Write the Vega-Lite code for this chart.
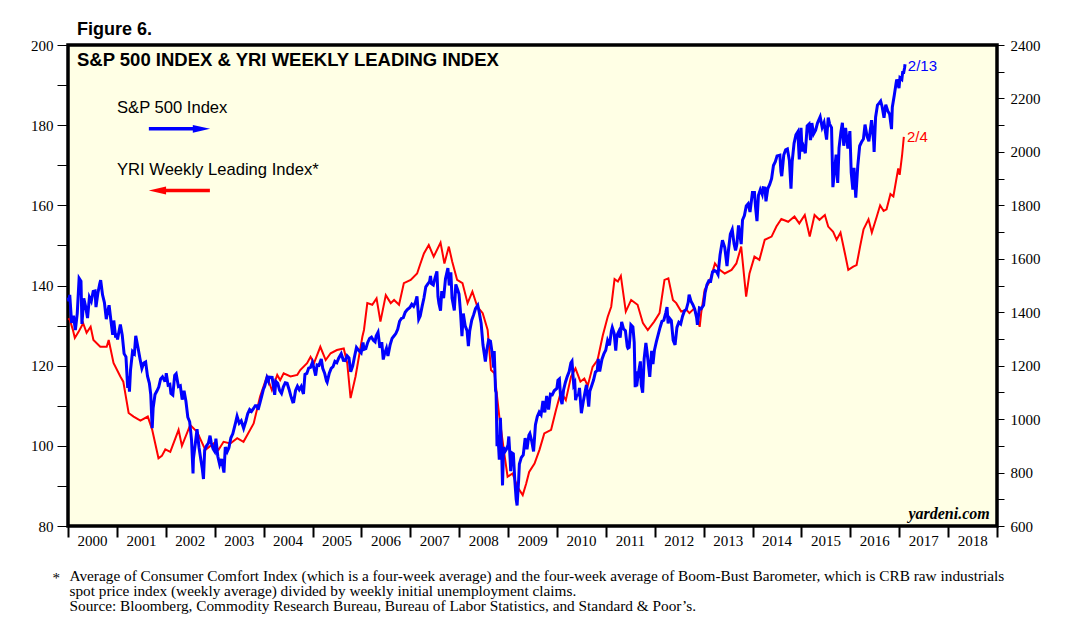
{
  "$schema": "https://vega.github.io/schema/vega-lite/v6.json",
  "width": 929,
  "height": 481,
  "autosize": {"type": "none"},
  "padding": {"left": 68, "top": 45, "right": 85, "bottom": 114},
  "background": "white",
  "title": {"text": "Figure 6.", "anchor": "start", "frame": "group", "font": "Liberation Sans", "fontSize": 18, "fontWeight": "bold", "color": "black", "dx": 9, "dy": 27, "offset": 8, "baseline": "bottom"},
  "config": {
    "view": {"fill": "#FFFFE5", "stroke": "black", "strokeWidth": 3.5},
    "axis": {"grid": false, "domain": false, "labelColor": "black", "tickColor": "black", "labelFont": "Liberation Serif", "labelFontSize": 15, "labelFlush": false, "labelOverlap": false, "labelBound": false}
  },
  "datasets": {
    "yri": [
      {"date":"2000-01-03","v":131.8},{"date":"2000-01-15","v":131.4},{"date":"2000-02-06","v":129.0},{"date":"2000-02-21","v":126.9},{"date":"2000-03-21","v":128.5},{"date":"2000-04-23","v":130.6},{"date":"2000-05-19","v":128.2},{"date":"2000-06-18","v":129.7},{"date":"2000-07-09","v":126.4},{"date":"2000-08-29","v":124.7},{"date":"2000-10-16","v":124.7},{"date":"2000-10-31","v":126.4},{"date":"2000-12-06","v":120.7},
      {"date":"2001-01-26","v":117.3},{"date":"2001-02-17","v":116.0},{"date":"2001-03-29","v":108.2},{"date":"2001-05-05","v":107.3},{"date":"2001-06-25","v":106.3},{"date":"2001-08-19","v":107.3},{"date":"2001-09-21","v":104.0},{"date":"2001-11-07","v":96.9},{"date":"2001-12-02","v":97.5},{"date":"2001-12-28","v":99.1},
      {"date":"2002-02-03","v":98.5},{"date":"2002-04-06","v":104.0},{"date":"2002-05-01","v":100.0},{"date":"2002-07-02","v":105.2},{"date":"2002-08-22","v":103.5},{"date":"2002-10-23","v":99.0},{"date":"2002-12-24","v":100.6},
      {"date":"2003-01-30","v":99.0},{"date":"2003-03-08","v":101.0},{"date":"2003-04-28","v":100.6},{"date":"2003-06-18","v":101.9},{"date":"2003-08-04","v":101.0},{"date":"2003-10-19","v":105.6},{"date":"2003-12-06","v":112.3},
      {"date":"2004-01-26","v":117.3},{"date":"2004-03-03","v":113.9},{"date":"2004-04-12","v":117.7},{"date":"2004-05-04","v":116.4},{"date":"2004-05-30","v":118.1},{"date":"2004-07-20","v":117.3},{"date":"2004-09-09","v":117.7},{"date":"2004-10-01","v":118.9},{"date":"2004-11-21","v":120.6},{"date":"2004-12-17","v":122.2},
      {"date":"2005-01-11","v":120.6},{"date":"2005-02-28","v":124.7},{"date":"2005-04-09","v":121.4},{"date":"2005-05-16","v":123.1},{"date":"2005-07-02","v":123.9},{"date":"2005-08-22","v":124.3},{"date":"2005-09-17","v":120.6},{"date":"2005-10-12","v":111.9},{"date":"2005-11-18","v":117.3},
      {"date":"2006-01-08","v":127.2},{"date":"2006-01-20","v":128.9},{"date":"2006-02-14","v":135.6},{"date":"2006-03-23","v":135.2},{"date":"2006-04-24","v":136.8},{"date":"2006-05-23","v":131.0},{"date":"2006-07-02","v":137.6},{"date":"2006-08-08","v":135.6},{"date":"2006-09-02","v":136.4},{"date":"2006-10-09","v":135.2},{"date":"2006-11-14","v":140.6},
      {"date":"2007-01-04","v":141.4},{"date":"2007-02-21","v":143.0},{"date":"2007-03-18","v":145.5},{"date":"2007-04-13","v":148.0},{"date":"2007-05-19","v":150.1},{"date":"2007-06-25","v":147.2},{"date":"2007-08-15","v":150.7},{"date":"2007-09-13","v":145.5},{"date":"2007-10-16","v":149.7},{"date":"2007-11-10","v":146.0},{"date":"2007-12-17","v":141.4},
      {"date":"2008-01-26","v":140.6},{"date":"2008-03-04","v":135.6},{"date":"2008-04-09","v":138.5},{"date":"2008-05-16","v":134.7},{"date":"2008-06-25","v":133.1},{"date":"2008-08-01","v":128.9},{"date":"2008-08-26","v":118.9},{"date":"2008-09-21","v":118.1},{"date":"2008-10-27","v":107.3},{"date":"2008-12-03","v":98.1},{"date":"2008-12-28","v":92.3},
      {"date":"2009-02-03","v":93.1},{"date":"2009-03-11","v":89.8},{"date":"2009-04-20","v":87.7},{"date":"2009-05-16","v":90.6},{"date":"2009-06-07","v":93.5},{"date":"2009-07-17","v":95.6},{"date":"2009-08-23","v":99.0},{"date":"2009-09-28","v":103.1},{"date":"2009-11-18","v":104.0},{"date":"2009-12-24","v":108.9},
      {"date":"2010-01-30","v":113.5},{"date":"2010-03-08","v":111.4},{"date":"2010-04-16","v":117.3},{"date":"2010-05-19","v":119.3},{"date":"2010-06-25","v":116.0},{"date":"2010-07-24","v":116.8},{"date":"2010-08-19","v":115.0},{"date":"2010-09-24","v":119.7},{"date":"2010-10-31","v":121.4},{"date":"2010-12-09","v":127.5},
      {"date":"2011-01-15","v":132.2},{"date":"2011-02-10","v":134.7},{"date":"2011-03-07","v":141.6},{"date":"2011-04-01","v":141.0},{"date":"2011-04-23","v":142.4},{"date":"2011-05-30","v":133.5},{"date":"2011-07-09","v":136.4},{"date":"2011-08-26","v":135.2},{"date":"2011-10-05","v":130.6},{"date":"2011-11-10","v":128.9},{"date":"2011-12-28","v":131.0},
      {"date":"2012-02-06","v":133.1},{"date":"2012-03-14","v":141.4},{"date":"2012-04-12","v":141.8},{"date":"2012-05-16","v":136.4},{"date":"2012-06-10","v":135.6},{"date":"2012-07-17","v":133.5},{"date":"2012-08-26","v":133.9},{"date":"2012-09-16","v":133.1},{"date":"2012-10-23","v":134.3},{"date":"2012-12-02","v":129.7},{"date":"2012-12-13","v":133.1},
      {"date":"2013-01-08","v":138.9},{"date":"2013-02-14","v":140.9},{"date":"2013-03-26","v":145.5},{"date":"2013-05-01","v":143.9},{"date":"2013-06-07","v":143.0},{"date":"2013-07-28","v":143.9},{"date":"2013-09-02","v":145.5},{"date":"2013-10-08","v":149.7},{"date":"2013-11-14","v":137.2},{"date":"2013-12-09","v":143.0},
      {"date":"2014-01-15","v":147.2},{"date":"2014-02-21","v":146.4},{"date":"2014-04-02","v":151.4},{"date":"2014-05-23","v":152.2},{"date":"2014-06-28","v":154.7},{"date":"2014-08-04","v":156.6},{"date":"2014-09-24","v":155.9},{"date":"2014-11-10","v":157.2},{"date":"2014-12-16","v":155.5},
      {"date":"2015-01-26","v":157.6},{"date":"2015-03-04","v":152.2},{"date":"2015-04-09","v":157.6},{"date":"2015-05-16","v":156.4},{"date":"2015-06-25","v":157.6},{"date":"2015-07-20","v":154.7},{"date":"2015-08-26","v":153.4},{"date":"2015-09-21","v":151.4},{"date":"2015-10-20","v":153.2},{"date":"2015-11-22","v":148.0},{"date":"2015-12-17","v":143.9},
      {"date":"2016-01-23","v":144.7},{"date":"2016-02-17","v":145.1},{"date":"2016-03-14","v":149.7},{"date":"2016-04-09","v":154.0},{"date":"2016-05-16","v":156.5},{"date":"2016-06-10","v":153.2},{"date":"2016-07-17","v":157.2},{"date":"2016-08-11","v":160.0},{"date":"2016-09-06","v":158.6},{"date":"2016-09-28","v":159.0},{"date":"2016-10-27","v":162.8},{"date":"2016-11-18","v":162.2},{"date":"2016-12-24","v":169.2},
      {"date":"2017-01-04","v":167.6},{"date":"2017-01-22","v":172.5},{"date":"2017-02-04","v":177.1}
    ],
    "spx": [
      {"date":"2000-01-03","v":1455},{"date":"2000-01-07","v":1441},{"date":"2000-01-14","v":1465},{"date":"2000-01-28","v":1360},{"date":"2000-02-11","v":1387},{"date":"2000-02-25","v":1333},{"date":"2000-03-10","v":1395},{"date":"2000-03-24","v":1527},{"date":"2000-04-07","v":1516},{"date":"2000-04-14","v":1356},{"date":"2000-04-28","v":1452},{"date":"2000-05-12","v":1420},{"date":"2000-05-26","v":1378},{"date":"2000-06-09","v":1456},{"date":"2000-06-23","v":1441},{"date":"2000-07-07","v":1478},{"date":"2000-07-21","v":1480},{"date":"2000-07-28","v":1419},{"date":"2000-08-11","v":1471},{"date":"2000-08-25","v":1506},{"date":"2000-09-01","v":1520},{"date":"2000-09-15","v":1465},{"date":"2000-09-29","v":1436},{"date":"2000-10-13","v":1374},{"date":"2000-10-20","v":1396},{"date":"2000-11-03","v":1426},{"date":"2000-11-17","v":1367},{"date":"2000-11-30","v":1315},{"date":"2000-12-08","v":1369},{"date":"2000-12-22","v":1305},{"date":"2000-12-29","v":1320},
      {"date":"2001-01-05","v":1298},{"date":"2001-01-12","v":1318},{"date":"2001-01-26","v":1354},{"date":"2001-02-09","v":1315},{"date":"2001-02-23","v":1245},{"date":"2001-03-09","v":1233},{"date":"2001-03-22","v":1117},{"date":"2001-03-30","v":1160},{"date":"2001-04-04","v":1103},{"date":"2001-04-12","v":1183},{"date":"2001-04-27","v":1253},{"date":"2001-05-11","v":1245},{"date":"2001-05-21","v":1312},{"date":"2001-06-08","v":1264},{"date":"2001-06-22","v":1225},{"date":"2001-07-06","v":1190},{"date":"2001-07-20","v":1210},{"date":"2001-08-03","v":1214},{"date":"2001-08-17","v":1161},{"date":"2001-08-31","v":1134},{"date":"2001-09-10","v":1093},{"date":"2001-09-21","v":966},{"date":"2001-09-28","v":1041},{"date":"2001-10-12","v":1092},{"date":"2001-10-26","v":1105},{"date":"2001-11-09","v":1120},{"date":"2001-11-23","v":1150},{"date":"2001-12-07","v":1158},{"date":"2001-12-21","v":1145},{"date":"2001-12-31","v":1148},
      {"date":"2002-01-04","v":1172},{"date":"2002-01-18","v":1127},{"date":"2002-01-31","v":1130},{"date":"2002-02-08","v":1096},{"date":"2002-02-22","v":1090},{"date":"2002-03-08","v":1164},{"date":"2002-03-19","v":1170},{"date":"2002-04-05","v":1122},{"date":"2002-04-19","v":1125},{"date":"2002-05-03","v":1073},{"date":"2002-05-17","v":1106},{"date":"2002-05-31","v":1067},{"date":"2002-06-14","v":1007},{"date":"2002-06-28","v":990},{"date":"2002-07-12","v":921},{"date":"2002-07-23","v":797},{"date":"2002-07-26","v":852},{"date":"2002-08-09","v":908},{"date":"2002-08-22","v":962},{"date":"2002-09-06","v":893},{"date":"2002-09-20","v":846},{"date":"2002-09-30","v":815},{"date":"2002-10-09","v":776},{"date":"2002-10-18","v":884},{"date":"2002-11-01","v":900},{"date":"2002-11-15","v":910},{"date":"2002-11-27","v":938},{"date":"2002-12-06","v":912},{"date":"2002-12-20","v":889},{"date":"2002-12-31","v":880},
      {"date":"2003-01-10","v":927},{"date":"2003-01-24","v":861},{"date":"2003-02-07","v":830},{"date":"2003-02-21","v":851},{"date":"2003-03-11","v":800},{"date":"2003-03-21","v":895},{"date":"2003-04-04","v":878},{"date":"2003-04-17","v":893},{"date":"2003-05-02","v":930},{"date":"2003-05-16","v":945},{"date":"2003-06-06","v":987},{"date":"2003-06-17","v":1011},{"date":"2003-07-03","v":985},{"date":"2003-07-18","v":994},{"date":"2003-08-05","v":966},{"date":"2003-08-22","v":993},{"date":"2003-09-05","v":1021},{"date":"2003-09-19","v":1036},{"date":"2003-10-03","v":1029},{"date":"2003-10-17","v":1039},{"date":"2003-10-31","v":1050},{"date":"2003-11-14","v":1050},{"date":"2003-11-21","v":1035},{"date":"2003-12-05","v":1061},{"date":"2003-12-19","v":1088},{"date":"2003-12-31","v":1112},
      {"date":"2004-01-09","v":1122},{"date":"2004-01-26","v":1155},{"date":"2004-02-06","v":1142},{"date":"2004-02-11","v":1157},{"date":"2004-03-05","v":1156},{"date":"2004-03-24","v":1091},{"date":"2004-04-02","v":1141},{"date":"2004-04-16","v":1134},{"date":"2004-04-30","v":1107},{"date":"2004-05-14","v":1096},{"date":"2004-05-28","v":1121},{"date":"2004-06-11","v":1136},{"date":"2004-06-25","v":1134},{"date":"2004-07-09","v":1112},{"date":"2004-07-23","v":1086},{"date":"2004-08-06","v":1064},{"date":"2004-08-13","v":1065},{"date":"2004-08-27","v":1107},{"date":"2004-09-10","v":1123},{"date":"2004-09-24","v":1110},{"date":"2004-10-08","v":1122},{"date":"2004-10-25","v":1094},{"date":"2004-11-05","v":1167},{"date":"2004-11-19","v":1171},{"date":"2004-12-03","v":1191},{"date":"2004-12-17","v":1194},{"date":"2004-12-31","v":1212},
      {"date":"2005-01-14","v":1184},{"date":"2005-01-24","v":1163},{"date":"2005-02-04","v":1203},{"date":"2005-02-18","v":1201},{"date":"2005-03-07","v":1225},{"date":"2005-03-18","v":1190},{"date":"2005-04-01","v":1172},{"date":"2005-04-15","v":1143},{"date":"2005-04-20","v":1138},{"date":"2005-05-06","v":1172},{"date":"2005-05-20","v":1190},{"date":"2005-06-03","v":1196},{"date":"2005-06-17","v":1216},{"date":"2005-07-01","v":1211},{"date":"2005-07-15","v":1228},{"date":"2005-08-03","v":1245},{"date":"2005-08-19","v":1220},{"date":"2005-09-02","v":1219},{"date":"2005-09-16","v":1237},{"date":"2005-09-30","v":1229},{"date":"2005-10-13","v":1177},{"date":"2005-10-28","v":1199},{"date":"2005-11-11","v":1235},{"date":"2005-11-25","v":1268},{"date":"2005-12-09","v":1259},{"date":"2005-12-30","v":1248},
      {"date":"2006-01-13","v":1287},{"date":"2006-01-20","v":1261},{"date":"2006-02-03","v":1264},{"date":"2006-02-17","v":1287},{"date":"2006-03-03","v":1302},{"date":"2006-03-17","v":1307},{"date":"2006-03-31","v":1295},{"date":"2006-04-13","v":1289},{"date":"2006-04-21","v":1311},{"date":"2006-05-05","v":1325},{"date":"2006-05-19","v":1267},{"date":"2006-06-02","v":1288},{"date":"2006-06-13","v":1223},{"date":"2006-06-23","v":1245},{"date":"2006-07-07","v":1265},{"date":"2006-07-18","v":1236},{"date":"2006-08-04","v":1279},{"date":"2006-08-18","v":1302},{"date":"2006-09-01","v":1311},{"date":"2006-09-15","v":1320},{"date":"2006-09-29","v":1336},{"date":"2006-10-13","v":1366},{"date":"2006-10-27","v":1377},{"date":"2006-11-10","v":1380},{"date":"2006-11-24","v":1400},{"date":"2006-12-08","v":1409},{"date":"2006-12-29","v":1418},
      {"date":"2007-01-12","v":1430},{"date":"2007-01-26","v":1422},{"date":"2007-02-09","v":1438},{"date":"2007-02-20","v":1459},{"date":"2007-03-05","v":1374},{"date":"2007-03-16","v":1386},{"date":"2007-03-30","v":1421},{"date":"2007-04-13","v":1453},{"date":"2007-04-27","v":1495},{"date":"2007-05-11","v":1505},{"date":"2007-05-25","v":1515},{"date":"2007-06-01","v":1536},{"date":"2007-06-08","v":1507},{"date":"2007-06-22","v":1502},{"date":"2007-07-06","v":1530},{"date":"2007-07-19","v":1553},{"date":"2007-07-27","v":1458},{"date":"2007-08-03","v":1433},{"date":"2007-08-15","v":1406},{"date":"2007-08-24","v":1479},{"date":"2007-09-07","v":1453},{"date":"2007-09-21","v":1525},{"date":"2007-10-09","v":1565},{"date":"2007-10-19","v":1500},{"date":"2007-10-31","v":1549},{"date":"2007-11-09","v":1453},{"date":"2007-11-26","v":1407},{"date":"2007-12-07","v":1504},{"date":"2007-12-21","v":1484},{"date":"2007-12-31","v":1468},
      {"date":"2008-01-11","v":1401},{"date":"2008-01-22","v":1310},{"date":"2008-02-01","v":1395},{"date":"2008-02-15","v":1349},{"date":"2008-02-29","v":1331},{"date":"2008-03-10","v":1273},{"date":"2008-03-20","v":1330},{"date":"2008-04-04","v":1370},{"date":"2008-04-18","v":1390},{"date":"2008-05-02","v":1413},{"date":"2008-05-19","v":1426},{"date":"2008-05-30","v":1400},{"date":"2008-06-13","v":1360},{"date":"2008-06-27","v":1278},{"date":"2008-07-15","v":1215},{"date":"2008-07-25","v":1257},{"date":"2008-08-08","v":1296},{"date":"2008-08-22","v":1292},{"date":"2008-09-05","v":1242},{"date":"2008-09-15","v":1193},{"date":"2008-09-19","v":1255},{"date":"2008-09-29","v":1106},{"date":"2008-10-03","v":1099},{"date":"2008-10-10","v":899},{"date":"2008-10-17","v":940},{"date":"2008-10-27","v":848},{"date":"2008-11-04","v":1005},{"date":"2008-11-14","v":873},{"date":"2008-11-20","v":752},{"date":"2008-11-28","v":896},{"date":"2008-12-05","v":876},{"date":"2008-12-19","v":887},{"date":"2008-12-31","v":903},
      {"date":"2009-01-06","v":935},{"date":"2009-01-16","v":850},{"date":"2009-01-20","v":805},{"date":"2009-01-28","v":874},{"date":"2009-02-09","v":870},{"date":"2009-02-20","v":770},{"date":"2009-03-02","v":700},{"date":"2009-03-09","v":677},{"date":"2009-03-20","v":768},{"date":"2009-03-26","v":832},{"date":"2009-04-09","v":856},{"date":"2009-04-24","v":866},{"date":"2009-05-08","v":929},{"date":"2009-05-22","v":887},{"date":"2009-06-05","v":940},{"date":"2009-06-12","v":946},{"date":"2009-06-26","v":918},{"date":"2009-07-10","v":879},{"date":"2009-07-24","v":979},{"date":"2009-08-07","v":1010},{"date":"2009-08-21","v":1026},{"date":"2009-09-04","v":1016},{"date":"2009-09-18","v":1068},{"date":"2009-10-02","v":1025},{"date":"2009-10-16","v":1087},{"date":"2009-10-30","v":1036},{"date":"2009-11-13","v":1093},{"date":"2009-11-27","v":1091},{"date":"2009-12-11","v":1106},{"date":"2009-12-31","v":1115},
      {"date":"2010-01-08","v":1145},{"date":"2010-01-19","v":1150},{"date":"2010-01-29","v":1074},{"date":"2010-02-08","v":1056},{"date":"2010-02-19","v":1109},{"date":"2010-03-05","v":1138},{"date":"2010-03-19","v":1160},{"date":"2010-04-02","v":1178},{"date":"2010-04-15","v":1211},{"date":"2010-04-23","v":1217},{"date":"2010-05-06","v":1128},{"date":"2010-05-14","v":1136},{"date":"2010-05-20","v":1071},{"date":"2010-05-28","v":1089},{"date":"2010-06-11","v":1092},{"date":"2010-06-18","v":1117},{"date":"2010-07-02","v":1022},{"date":"2010-07-16","v":1065},{"date":"2010-07-30","v":1102},{"date":"2010-08-09","v":1128},{"date":"2010-08-26","v":1047},{"date":"2010-09-03","v":1104},{"date":"2010-09-17","v":1125},{"date":"2010-10-01","v":1146},{"date":"2010-10-15","v":1176},{"date":"2010-10-29","v":1183},{"date":"2010-11-05","v":1225},{"date":"2010-11-16","v":1178},{"date":"2010-12-03","v":1224},{"date":"2010-12-17","v":1244},{"date":"2010-12-31","v":1258},
      {"date":"2011-01-14","v":1294},{"date":"2011-01-28","v":1276},{"date":"2011-02-11","v":1329},{"date":"2011-02-18","v":1343},{"date":"2011-03-04","v":1321},{"date":"2011-03-16","v":1256},{"date":"2011-03-25","v":1313},{"date":"2011-04-08","v":1328},{"date":"2011-04-18","v":1305},{"date":"2011-04-29","v":1364},{"date":"2011-05-13","v":1338},{"date":"2011-05-27","v":1331},{"date":"2011-06-10","v":1271},{"date":"2011-06-15","v":1265},{"date":"2011-06-24","v":1268},{"date":"2011-07-07","v":1353},{"date":"2011-07-22","v":1345},{"date":"2011-08-01","v":1287},{"date":"2011-08-08","v":1119},{"date":"2011-08-12","v":1179},{"date":"2011-08-19","v":1123},{"date":"2011-09-02","v":1174},{"date":"2011-09-16","v":1216},{"date":"2011-09-22","v":1129},{"date":"2011-10-03","v":1099},{"date":"2011-10-14","v":1225},{"date":"2011-10-27","v":1285},{"date":"2011-11-04","v":1254},{"date":"2011-11-25","v":1158},{"date":"2011-12-09","v":1255},{"date":"2011-12-19","v":1206},{"date":"2011-12-30","v":1258},
      {"date":"2012-01-13","v":1289},{"date":"2012-01-27","v":1316},{"date":"2012-02-10","v":1343},{"date":"2012-02-24","v":1366},{"date":"2012-03-09","v":1370},{"date":"2012-03-23","v":1397},{"date":"2012-04-02","v":1419},{"date":"2012-04-10","v":1358},{"date":"2012-04-20","v":1378},{"date":"2012-05-04","v":1369},{"date":"2012-05-18","v":1295},{"date":"2012-06-01","v":1278},{"date":"2012-06-15","v":1343},{"date":"2012-06-29","v":1362},{"date":"2012-07-13","v":1356},{"date":"2012-07-27","v":1385},{"date":"2012-08-10","v":1405},{"date":"2012-08-24","v":1411},{"date":"2012-09-07","v":1437},{"date":"2012-09-14","v":1466},{"date":"2012-09-28","v":1441},{"date":"2012-10-12","v":1428},{"date":"2012-10-26","v":1411},{"date":"2012-11-09","v":1380},{"date":"2012-11-15","v":1353},{"date":"2012-11-30","v":1416},{"date":"2012-12-14","v":1413},{"date":"2012-12-31","v":1426},
      {"date":"2013-01-11","v":1472},{"date":"2013-01-25","v":1503},{"date":"2013-02-08","v":1518},{"date":"2013-02-22","v":1516},{"date":"2013-03-08","v":1551},{"date":"2013-03-22","v":1556},{"date":"2013-04-05","v":1553},{"date":"2013-04-18","v":1541},{"date":"2013-05-03","v":1614},{"date":"2013-05-21","v":1669},{"date":"2013-06-07","v":1643},{"date":"2013-06-24","v":1573},{"date":"2013-07-05","v":1632},{"date":"2013-07-19","v":1692},{"date":"2013-08-02","v":1709},{"date":"2013-08-16","v":1655},{"date":"2013-08-27","v":1631},{"date":"2013-09-06","v":1655},{"date":"2013-09-18","v":1725},{"date":"2013-10-08","v":1655},{"date":"2013-10-18","v":1745},{"date":"2013-11-01","v":1762},{"date":"2013-11-15","v":1798},{"date":"2013-11-29","v":1806},{"date":"2013-12-13","v":1775},{"date":"2013-12-31","v":1848},
      {"date":"2014-01-15","v":1848},{"date":"2014-01-24","v":1790},{"date":"2014-02-03","v":1741},{"date":"2014-02-14","v":1838},{"date":"2014-02-28","v":1859},{"date":"2014-03-14","v":1841},{"date":"2014-03-21","v":1866},{"date":"2014-04-04","v":1865},{"date":"2014-04-11","v":1815},{"date":"2014-04-25","v":1863},{"date":"2014-05-09","v":1878},{"date":"2014-05-23","v":1900},{"date":"2014-06-06","v":1949},{"date":"2014-06-20","v":1963},{"date":"2014-07-03","v":1985},{"date":"2014-07-24","v":1988},{"date":"2014-08-01","v":1925},{"date":"2014-08-07","v":1909},{"date":"2014-08-22","v":1988},{"date":"2014-09-05","v":2008},{"date":"2014-09-18","v":2011},{"date":"2014-10-03","v":1968},{"date":"2014-10-15","v":1862},{"date":"2014-10-24","v":1965},{"date":"2014-11-07","v":2032},{"date":"2014-11-21","v":2064},{"date":"2014-12-05","v":2075},{"date":"2014-12-16","v":1972},{"date":"2014-12-29","v":2090},
      {"date":"2015-01-06","v":2002},{"date":"2015-01-16","v":2019},{"date":"2015-01-30","v":1995},{"date":"2015-02-13","v":2097},{"date":"2015-02-27","v":2104},{"date":"2015-03-10","v":2044},{"date":"2015-03-20","v":2108},{"date":"2015-04-02","v":2067},{"date":"2015-04-17","v":2081},{"date":"2015-05-01","v":2108},{"date":"2015-05-21","v":2131},{"date":"2015-06-05","v":2092},{"date":"2015-06-19","v":2110},{"date":"2015-07-08","v":2046},{"date":"2015-07-20","v":2128},{"date":"2015-07-31","v":2104},{"date":"2015-08-14","v":2091},{"date":"2015-08-24","v":1868},{"date":"2015-09-04","v":1921},{"date":"2015-09-17","v":1990},{"date":"2015-09-29","v":1884},{"date":"2015-10-09","v":2015},{"date":"2015-10-23","v":2075},{"date":"2015-11-03","v":2109},{"date":"2015-11-13","v":2023},{"date":"2015-11-27","v":2090},{"date":"2015-12-14","v":2012},{"date":"2015-12-29","v":2078},
      {"date":"2016-01-08","v":1922},{"date":"2016-01-20","v":1859},{"date":"2016-01-29","v":1940},{"date":"2016-02-11","v":1829},{"date":"2016-02-26","v":1948},{"date":"2016-03-11","v":2022},{"date":"2016-03-24","v":2036},{"date":"2016-04-08","v":2048},{"date":"2016-04-20","v":2102},{"date":"2016-05-06","v":2057},{"date":"2016-05-19","v":2040},{"date":"2016-06-08","v":2119},{"date":"2016-06-24","v":2037},{"date":"2016-06-27","v":2000},{"date":"2016-07-08","v":2130},{"date":"2016-07-22","v":2175},{"date":"2016-08-05","v":2183},{"date":"2016-08-15","v":2190},{"date":"2016-08-26","v":2169},{"date":"2016-09-09","v":2128},{"date":"2016-09-22","v":2177},{"date":"2016-10-07","v":2153},{"date":"2016-10-21","v":2141},{"date":"2016-11-04","v":2085},{"date":"2016-11-10","v":2167},{"date":"2016-11-25","v":2213},{"date":"2016-12-09","v":2260},{"date":"2016-12-13","v":2271},{"date":"2016-12-30","v":2239},
      {"date":"2017-01-06","v":2277},{"date":"2017-01-20","v":2271},{"date":"2017-01-26","v":2297},{"date":"2017-02-03","v":2297},{"date":"2017-02-10","v":2316},{"date":"2017-02-13","v":2328}
    ]
  },
  "layer": [
    {
      "layer": [
        {
          "data": {"name": "yri"},
          "mark": {"type": "line", "color": "#FF0000", "strokeWidth": 2},
          "encoding": {
            "x": {"field": "date", "type": "temporal",
              "scale": {"domain": [{"year": 2000, "month": 1, "date": 1}, {"year": 2019, "month": 1, "date": 1}]},
              "axis": {"values": [{"year":2000},{"year":2001},{"year":2002},{"year":2003},{"year":2004},{"year":2005},{"year":2006},{"year":2007},{"year":2008},{"year":2009},{"year":2010},{"year":2011},{"year":2012},{"year":2013},{"year":2014},{"year":2015},{"year":2016},{"year":2017},{"year":2018},{"year":2019}],
                "format": "%Y", "labelExpr": "year(datum.value) >= 2019 ? '' : datum.label", "labelOffset": 24, "labelAlign": "center", "tickSize": 11, "tickWidth": 2, "labelPadding": -4,
                "labelFont": "Liberation Serif", "labelFontSize": 15, "labelColor": "black", "labelFontWeight": "normal",
                "title": ["Average of Consumer Comfort Index (which is a four-week average) and the four-week average of Boom-Bust Barometer, which is CRB raw industrials", "spot price index (weekly average) divided by weekly initial unemployment claims.", "Source: Bloomberg, Commodity Research Bureau, Bureau of Labor Statistics, and Standard & Poor\u2019s."],
                "titleFont": "Liberation Serif", "titleFontSize": 15.3, "titleFontWeight": "normal", "titleColor": "black", "titleAnchor": "start", "titleAlign": "left", "titleX": 1, "titleY": 54, "titleBaseline": "alphabetic", "titleLineHeight": 15}},
            "y": {"field": "v", "type": "quantitative",
              "scale": {"domain": [80, 200], "nice": false, "zero": false},
              "axis": {"values": [80,90,100,110,120,130,140,150,160,170,180,190,200], "labelExpr": "datum.value % 20 == 0 ? datum.label : ''", "tickSize": 11, "labelPadding": 4,
                "labelFont": "Liberation Serif", "labelFontSize": 15, "labelColor": "black", "labelFontWeight": "normal",
                "title": "*", "titleAngle": 0, "titleX": -16, "titleY": 537, "titleAlign": "left", "titleBaseline": "alphabetic", "titleFont": "Liberation Serif", "titleFontSize": 15, "titleFontWeight": "normal", "titleColor": "black"}}
          }
        },
        {
          "data": {"values": [{"date": "2000-03-08", "v": 194.8, "label": "S&P 500 INDEX & YRI WEEKLY LEADING INDEX"}]},
          "mark": {"type": "text", "align": "left", "baseline": "alphabetic", "font": "Liberation Sans", "fontSize": 18.5, "fontWeight": "bold", "color": "black"},
          "encoding": {"x": {"field": "date", "type": "temporal"}, "y": {"field": "v", "type": "quantitative"}, "text": {"field": "label"}}
        },
        {
          "data": {"values": [{"date": "2001-01-01", "v": 183.0, "label": "S&P 500 Index"}, {"date": "2001-01-01", "v": 167.6, "label": "YRI Weekly Leading Index*"}]},
          "mark": {"type": "text", "align": "left", "baseline": "alphabetic", "font": "Liberation Sans", "fontSize": 16.6, "color": "black"},
          "encoding": {"x": {"field": "date", "type": "temporal"}, "y": {"field": "v", "type": "quantitative"}, "text": {"field": "label"}}
        },
        {
          "data": {"values": [{"date": "2001-08-27", "end": "2002-08-07", "v": 179.1, "series": "S&P 500"}, {"date": "2001-12-17", "end": "2002-11-26", "v": 163.7, "series": "YRI"}]},
          "mark": {"type": "rule", "strokeWidth": 3.5},
          "encoding": {"x": {"field": "date", "type": "temporal"}, "x2": {"field": "end"}, "y": {"field": "v", "type": "quantitative"},
            "color": {"field": "series", "type": "nominal", "scale": {"domain": ["S&P 500", "YRI"], "range": ["#0000FF", "#FF0000"]}, "legend": null}}
        },
        {
          "data": {"values": [{"date": "2002-09-24", "v": 179.1}]},
          "mark": {"type": "point", "shape": "M -1 -0.45 L 1 0 L -1 0.45 Z", "filled": true, "size": 300, "color": "#0000FF", "opacity": 1},
          "encoding": {"x": {"field": "date", "type": "temporal"}, "y": {"field": "v", "type": "quantitative"}}
        },
        {
          "data": {"values": [{"date": "2001-10-30", "v": 163.7}]},
          "mark": {"type": "point", "shape": "M 1 -0.45 L -1 0 L 1 0.45 Z", "filled": true, "size": 300, "color": "#FF0000", "opacity": 1},
          "encoding": {"x": {"field": "date", "type": "temporal"}, "y": {"field": "v", "type": "quantitative"}}
        },
        {
          "data": {"values": [{"date": "2017-03-06", "v": 193.4, "label": "2/13"}]},
          "mark": {"type": "text", "align": "left", "baseline": "alphabetic", "font": "Liberation Sans", "fontSize": 15, "color": "#0000FF"},
          "encoding": {"x": {"field": "date", "type": "temporal"}, "y": {"field": "v", "type": "quantitative"}, "text": {"field": "label"}}
        },
        {
          "data": {"values": [{"date": "2017-02-27", "v": 175.7, "label": "2/4"}]},
          "mark": {"type": "text", "align": "left", "baseline": "alphabetic", "font": "Liberation Sans", "fontSize": 15, "color": "#FF0000"},
          "encoding": {"x": {"field": "date", "type": "temporal"}, "y": {"field": "v", "type": "quantitative"}, "text": {"field": "label"}}
        },
        {
          "data": {"values": [{"date": "2018-11-08", "v": 81.75, "label": "yardeni.com"}]},
          "mark": {"type": "text", "align": "right", "baseline": "alphabetic", "font": "Liberation Serif", "fontSize": 16, "fontStyle": "italic", "fontWeight": "bold", "color": "black"},
          "encoding": {"x": {"field": "date", "type": "temporal"}, "y": {"field": "v", "type": "quantitative"}, "text": {"field": "label"}}
        }
      ]
    },
    {
      "data": {"name": "spx"},
      "mark": {"type": "line", "color": "#0000FF", "strokeWidth": 3},
      "encoding": {
        "x": {"field": "date", "type": "temporal"},
        "y": {"field": "v", "type": "quantitative",
          "scale": {"domain": [600, 2400], "nice": false, "zero": false},
          "axis": {"orient": "right", "values": [600,700,800,900,1000,1100,1200,1300,1400,1500,1600,1700,1800,1900,2000,2100,2200,2300,2400], "labelExpr": "datum.value % 200 == 0 ? datum.label : ''", "format": "d", "tickSize": 7, "labelPadding": 6, "title": null,
            "labelFont": "Liberation Serif", "labelFontSize": 15, "labelColor": "black", "labelFontWeight": "normal"}}
      }
    }
  ],
  "resolve": {"scale": {"y": "independent"}}
}
